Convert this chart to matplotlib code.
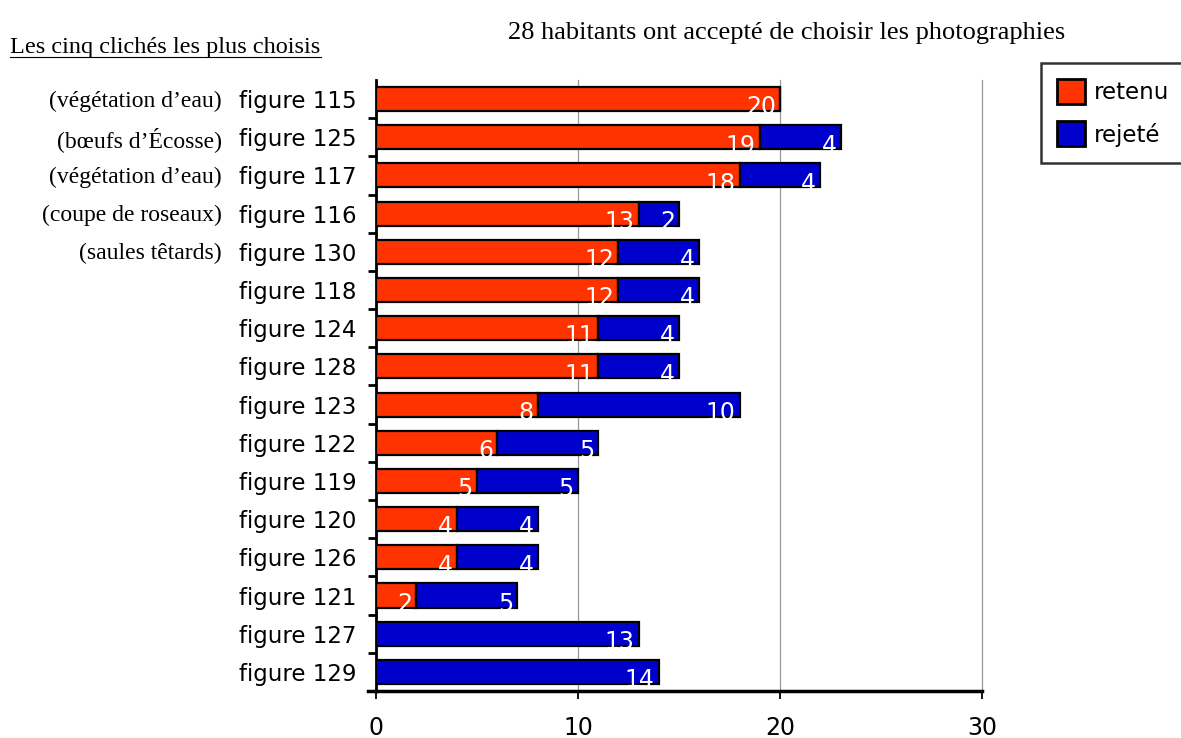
import numpy as np
import matplotlib.pyplot as plt
from matplotlib.patches import Patch
from matplotlib.lines import Line2D

# data
figures = ['figure 115', 'figure 125', 'figure 117', 'figure 116', 'figure 130',
           'figure 118', 'figure 124', 'figure 128', 'figure 123', 'figure 122',
           'figure 119', 'figure 120', 'figure 126', 'figure 121', 'figure 127',
           'figure 129']
retenu = [20, 19, 18, 13, 12, 12, 11, 11, 8, 6, 5, 4, 4, 2, 0, 0]
rejete = [0, 4, 4, 2, 4, 4, 4, 4, 10, 5, 5, 4, 4, 5, 13, 14]
notes = ['(végétation d’eau)', '(bœufs d’Écosse)', '(végétation d’eau)',
         '(coupe de roseaux)', '(saules têtards)']

red = '#ff3300'
blue = '#0000cc'
sans = 'DejaVu Sans'
serif = 'Liberation Serif'

fig = plt.figure(figsize=(11.81, 7.38), dpi=100)
ax = fig.add_axes([0.3184, 0.0637, 0.5131, 0.8279])

y = np.arange(len(figures))
h = 0.63
ax.barh(y, retenu, height=h, color=red, edgecolor='black', linewidth=1.6, zorder=3)
ax.barh(y, rejete, left=retenu, height=h, color=blue, edgecolor='black', linewidth=1.6, zorder=3)

# values inside the bars, right aligned at segment end
for i in range(len(figures)):
    if retenu[i] > 0:
        ax.annotate(str(retenu[i]), (retenu[i], i), xytext=(-3, -11), textcoords='offset points',
                    ha='right', va='baseline', color='white', fontsize=17, family=sans, zorder=4)
    if rejete[i] > 0:
        ax.annotate(str(rejete[i]), (retenu[i] + rejete[i], i), xytext=(-3, -11),
                    textcoords='offset points', ha='right', va='baseline', color='white',
                    fontsize=17, family=sans, zorder=4)

ax.set_xlim(0, 30)
ax.set_ylim(len(figures) - 0.5, -0.5)
ax.set_xticks([0, 10, 20, 30])
ax.set_xticklabels(['0', '10', '20', '30'], fontsize=17, family=sans)
ax.xaxis.grid(True, color='#999999', linewidth=0.9, zorder=0)
for g in ax.get_xgridlines():
    g.set_clip_on(False)
ax.tick_params(axis='x', direction='out', length=6, width=1.3, pad=12)

ax.set_yticks(y)
ax.set_yticklabels(figures, fontsize=16.5, family=sans)
ax.set_yticks(y[:-1] + 0.5, minor=True)
ax.tick_params(axis='y', which='major', length=0, pad=14)
ax.tick_params(axis='y', which='minor', direction='out', length=6, width=2)

for s in ['top', 'right']:
    ax.spines[s].set_visible(False)
ax.spines['left'].set_linewidth(2)
ax.spines['bottom'].set_linewidth(2.5)
ax.add_line(Line2D([-0.013, 0], [0, 0], transform=ax.transAxes, color='black',
                   linewidth=2.5, clip_on=False))

# descriptions of the five most chosen pictures
for i, t in enumerate(notes):
    ax.annotate(t, (0, i), xycoords=('axes fraction', 'data'), xytext=(-154, -2),
                textcoords='offset pixels', ha='right', va='center',
                fontsize=17, family=serif)

fig.text(0.43, 0.955, '28 habitants ont accepté de choisir les photographies',
         fontsize=19, family=serif, va='center', ha='left')
fig.text(0.0085, 0.936, 'Les cinq clichés les plus choisis', fontsize=17.5, family=serif,
         va='center', ha='left')
fig.add_artist(Line2D([0.0085, 0.2717], [0.9228, 0.9228], color='black', linewidth=0.8))

handles = [Patch(facecolor=red, edgecolor='black', linewidth=2, label='retenu'),
           Patch(facecolor=blue, edgecolor='black', linewidth=2, label='rejeté')]
leg = fig.legend(handles=handles, loc='upper left', bbox_to_anchor=(1041 / 1181, 1 - 63 / 738),
                 borderaxespad=0, frameon=True, fancybox=False, handlelength=1.2,
                 handleheight=1.3, handletextpad=0.4, borderpad=0.7, labelspacing=0.75,
                 prop={'family': sans, 'size': 16.5})
leg.get_frame().set_edgecolor('black')
leg.get_frame().set_linewidth(1.8)

fig.savefig('out.png', dpi=100)
